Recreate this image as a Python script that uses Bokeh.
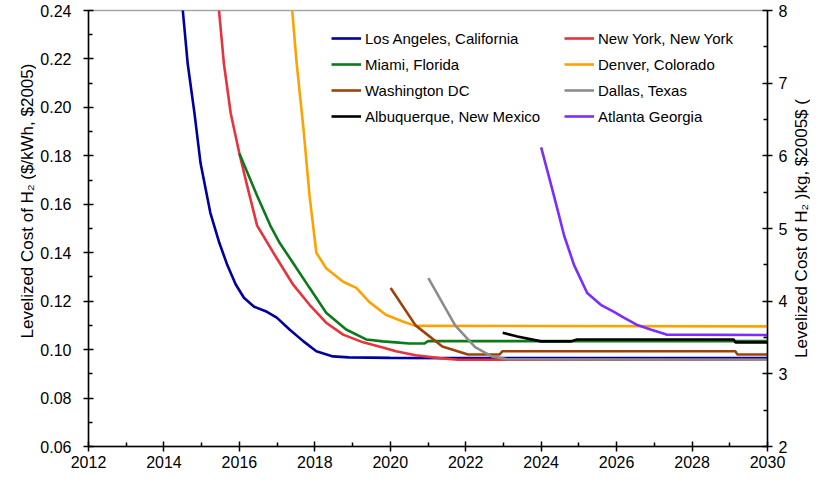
import math
from bokeh.plotting import figure
from bokeh.layouts import row
from bokeh.core.properties import value
from bokeh.models import (Range1d, LinearAxis, FixedTicker, NumeralTickFormatter,
                          Legend, LegendItem)
from bokeh.embed import file_html
from bokeh.resources import INLINE

# ---------------- data ($/kWh, $2005) ----------------
la_years = [2014.40, 2014.50, 2014.63, 2014.81, 2014.97, 2015.23, 2015.47, 2015.68, 2015.90,
            2016.12, 2016.39, 2016.73, 2016.99, 2017.33, 2017.70, 2018.04, 2018.48, 2018.90,
            2020.0, 2022.0, 2030.0]
la_cost = [0.250, 0.240, 0.218, 0.1975, 0.177, 0.1565, 0.144, 0.1349, 0.127,
           0.1214, 0.1177, 0.1156, 0.1132, 0.1083, 0.1034, 0.0993, 0.0972, 0.0968,
           0.0966, 0.0965, 0.0965]

ny_years = [2015.40, 2015.46, 2015.59, 2015.77, 2016.00, 2016.20, 2016.47, 2016.99,
            2017.43, 2017.86, 2018.30, 2018.75, 2019.28, 2019.80, 2020.15, 2020.67, 2021.30,
            2021.80, 2030.0]
ny_cost = [0.250, 0.240, 0.218, 0.1976, 0.181, 0.168, 0.1512, 0.1377,
           0.1267, 0.1185, 0.1111, 0.1062, 0.1030, 0.1009, 0.0993, 0.0977, 0.0965,
           0.0958, 0.0958]

mi_years = [2016.00, 2016.47, 2016.82, 2017.07, 2017.34, 2017.86, 2018.30, 2018.83, 2019.36,
            2019.80, 2020.15, 2020.50, 2020.90, 2021.00, 2030.0]
mi_cost = [0.181, 0.1635, 0.1512, 0.144, 0.1377, 0.1255, 0.1152, 0.1083, 0.1042,
           0.1034, 0.1030, 0.1025, 0.1025, 0.1035, 0.1035]

de_years = [2017.35, 2017.40, 2017.52, 2017.70, 2017.86, 2018.04, 2018.30, 2018.75, 2019.10,
            2019.44, 2019.88, 2020.33, 2020.67, 2030.0]
de_cost = [0.250, 0.240, 0.218, 0.191, 0.1635, 0.140, 0.1336, 0.128, 0.1255,
           0.1197, 0.1144, 0.1116, 0.1098, 0.1096]

dc_years = [2020.01, 2020.67, 2021.38, 2022.06, 2022.90, 2022.97, 2029.15, 2029.20, 2030.0]
dc_cost = [0.1254, 0.110, 0.1013, 0.0980, 0.0980, 0.0993, 0.0993, 0.0980, 0.0980]

da_years = [2021.01, 2021.72, 2022.25, 2022.69, 2023.10, 2030.0]
da_cost = [0.1295, 0.110, 0.101, 0.0972, 0.0960, 0.0958]

ab_years = [2022.98, 2023.37, 2024.00, 2024.80, 2024.95, 2029.10, 2029.15, 2030.0]
ab_cost = [0.107, 0.1054, 0.1034, 0.1034, 0.1042, 0.1042, 0.1030, 0.1030]

at_years = [2024.00, 2024.27, 2024.43, 2024.61, 2024.87, 2025.22, 2025.58, 2025.93, 2026.19,
            2026.53, 2026.90, 2027.32, 2030.0]
at_cost = [0.1835, 0.1676, 0.158, 0.147, 0.135, 0.1234, 0.1185, 0.1156, 0.1132,
           0.1103, 0.1083, 0.1062, 0.1060]

series_names = ["Los Angeles, California", "New York, New York", "Miami, Florida",
                "Denver, Colorado", "Washington DC", "Dallas, Texas",
                "Albuquerque, New Mexico", "Atlanta Georgia"]
series_years = [la_years, ny_years, mi_years, de_years, dc_years, da_years, ab_years, at_years]
series_cost = [la_cost, ny_cost, mi_cost, de_cost, dc_cost, da_cost, ab_cost, at_cost]
series_colors = ["#0000a0", "#e8323c", "#0b7a1b", "#ffa200", "#a0400a", "#8c8c8c",
                 "#000000", "#7b2dff"]

x_ticks = [2012, 2014, 2016, 2018, 2020, 2022, 2024, 2026, 2028, 2030]
x_minor = [2013, 2015, 2017, 2019, 2021, 2023, 2025, 2027, 2029]
y_ticks = [0.06, 0.08, 0.10, 0.12, 0.14, 0.16, 0.18, 0.20, 0.22, 0.24]
y_minor = [0.07, 0.09, 0.11, 0.13, 0.15, 0.17, 0.19, 0.21, 0.23]
kg_ticks = [2, 3, 4, 5, 6, 7, 8]
kg_minor = [2.5, 3.5, 4.5, 5.5, 6.5, 7.5]

left_label = "Levelized Cost of H\u2082 ($/kWh, $2005)"
right_label = "Levelized Cost of H\u2082 )kg, $2005$ ("

FONT = "Liberation Sans"
H = 474

# ---------- main chart ----------
p = figure(width=754, height=H, output_backend="svg", toolbar_location=None,
           x_range=Range1d(2012, 2030), y_range=Range1d(0.06, 0.24),
           min_border_left=52, min_border_right=20, min_border_top=10, min_border_bottom=28,
           background_fill_color="white", border_fill_color="white")
p.xgrid.visible = False
p.ygrid.visible = False
p.outline_line_color = "#a6a6a6"
p.outline_line_width = 1.5
p.extra_y_ranges = {"kg": Range1d(2, 8)}

def style_axis(ax, ticks, minor, size="16px"):
    ax.ticker = FixedTicker(ticks=ticks, minor_ticks=minor)
    ax.axis_line_color = "black"
    ax.axis_line_width = 1.5
    ax.major_tick_line_color = "black"
    ax.major_tick_line_width = 1.5
    ax.major_tick_in = 5
    ax.major_tick_out = 5
    ax.minor_tick_line_color = "black"
    ax.minor_tick_line_width = 1.5
    ax.minor_tick_in = 4
    ax.minor_tick_out = 0
    ax.major_label_text_font = FONT
    ax.major_label_text_font_size = size
    ax.major_label_text_color = "black"

xa = p.xaxis[0]
style_axis(xa, x_ticks, x_minor)
xa.major_label_standoff = 4

ya = p.yaxis[0]
style_axis(ya, y_ticks, y_minor)
ya.formatter = NumeralTickFormatter(format="0.00")
ya.major_label_standoff = 12

ra = LinearAxis(y_range_name="kg")
style_axis(ra, kg_ticks, kg_minor)
ra.major_label_standoff = 6
p.add_layout(ra, "right")

renderers = []
for yrs, cost, col in zip(series_years, series_cost, series_colors):
    r = p.line(yrs, cost, line_color=col, line_width=2.6)
    renderers.append(r)

def make_legend(idx, loc):
    items = [LegendItem(label=series_names[i], renderers=[renderers[i]]) for i in idx]
    lg = Legend(items=items, location=loc, orientation="vertical")
    lg.border_line_color = None
    lg.background_fill_alpha = 0
    lg.padding = 0
    lg.margin = 0
    lg.spacing = 6
    lg.glyph_width = 30
    lg.glyph_height = 20
    lg.label_height = 20
    lg.label_standoff = 4
    lg.label_text_font = FONT
    lg.label_text_font_size = "15px"
    lg.label_text_color = "black"
    p.add_layout(lg, "center")

make_legend([0, 2, 4, 6], (243, 320))
make_legend([1, 3, 5, 7], (476, 320))

# ---------- axis titles (rotated, reading bottom to top) ----------
def title_strip(width, text, x_frac, y_frac, size):
    f = figure(width=width, height=H, output_backend="svg", toolbar_location=None,
               x_range=Range1d(0, 1), y_range=Range1d(0, 1),
               x_axis_type=None, y_axis_type=None, min_border=0,
               background_fill_color="white", border_fill_color="white")
    f.grid.visible = False
    f.outline_line_color = None
    f.text(x=[x_frac], y=[y_frac], text=[text], angle=math.pi / 2,
           text_align="center", text_baseline="middle",
           text_font=value(FONT), text_font_size=size, text_color="black")
    return f

left_strip = title_strip(36, left_label, 0.75, 0.563, "17px")
right_strip = title_strip(20, right_label, 0.55, 0.50, "17px")

layout = row(left_strip, p, right_strip, spacing=0)

open("out.html", "w").write(file_html(layout, INLINE))
